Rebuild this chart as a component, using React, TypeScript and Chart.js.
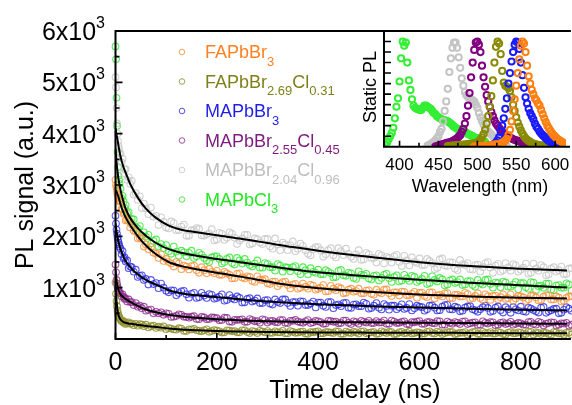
import React, { useEffect, useRef } from "react";
import { Chart, registerables } from "chart.js";
Chart.register(...registerables);

const FONT = '"Liberation Sans", Arial, Helvetica, sans-serif';

// ---------------- main panel: time-resolved PL ----------------
const TIME_NS = [
  0, 1, 2, 3, 4, 5, 6, 7, 8, 10, 12, 14, 16, 18, 20, 23, 26, 29, 32, 36, 40, 44, 48, 52, 56, 60, 65, 70, 75, 80, 85, 90, 95, 100,
  110, 120, 130, 140, 150, 160, 170, 180, 190, 200, 210, 220, 230, 240, 250, 260, 270, 280, 290, 300,
  310, 320, 330, 340, 350, 360, 370, 380, 390, 400, 410, 420, 430, 440, 450, 460, 470, 480, 490, 500,
  510, 520, 530, 540, 550, 560, 570, 580, 590, 600, 610, 620, 630, 640, 650, 660, 670, 680, 690, 700,
  710, 720, 730, 740, 750, 760, 770, 780, 790, 800, 810, 820, 830, 840, 850, 860, 870, 880, 890, 900,
];
// second interleaved sampling grid
const TIME_NS_B = [
  105, 115, 125, 135, 145, 155, 165, 175, 185, 195, 205, 215, 225, 235, 245, 255, 265, 275, 285, 295,
  305, 315, 325, 335, 345, 355, 365, 375, 385, 395, 405, 415, 425, 435, 445, 455, 465, 475, 485, 495,
  505, 515, 525, 535, 545, 555, 565, 575, 585, 595, 605, 615, 625, 635, 645, 655, 665, 675, 685, 695,
  705, 715, 725, 735, 745, 755, 765, 775, 785, 795, 805, 815, 825, 835, 845, 855, 865, 875, 885, 895,
];

const PL_FAPBBR3 = [
  3100, 3000, 2950, 2880, 2820, 2790, 2740, 2700, 2680,
  2680, 2530, 2530, 2440, 2460, 2310, 2320, 2300, 2170, 2230, 2110, 2090, 1960, 1970, 1950, 1800, 1840, 1750, 1790, 1680, 1660, 1580, 1650, 1520, 1560,
  1470, 1500, 1360, 1410, 1420, 1340, 1400, 1280, 1310, 1330,
  1250, 1280, 1180, 1270, 1200, 1220, 1130, 1220, 1145, 1085,
  1120, 1030, 1110, 1050, 1060, 980, 1080, 980, 1040, 980,
  1050, 930, 980, 1010, 890, 960, 920, 980, 890, 950,
  860, 910, 960, 890, 910, 845, 920, 850, 920, 900,
  840, 910, 790, 860, 890, 800, 860, 830, 900, 780,
  840, 800, 870, 760, 845, 815, 780, 870, 790, 830,
  740, 840, 810, 760, 850, 770, 830, 730, 800, 830,
];
const PL_FAPBBR3_B = [
  1500, 1410, 1470, 1430, 1355, 1430, 1290, 1340, 1365, 1280,
  1250, 1310, 1250, 1185, 1280, 1180, 1210, 1110, 1160, 1165,
  1070, 1120, 1075, 1120, 985, 1075, 1000, 1020, 1055, 960,
  1000, 925, 1035, 950, 985, 900, 980, 935, 890, 945,
  880, 960, 890, 965, 840, 910, 925, 850, 880, 805,
  900, 815, 910, 850, 830, 895, 795, 865, 830, 875,
  795, 890, 765, 835, 840, 775, 870, 795, 745, 840,
  810, 775, 850, 750, 825, 855, 770, 805, 745, 830,
];
const PL_FAPBBR269CL031 = [
  1100, 880, 740, 640, 560, 500, 460, 430, 410,
  375, 345, 360, 315, 335, 290, 310, 325, 295, 300, 270, 295, 260, 290, 280, 250, 280, 225, 250, 260, 215, 240, 220, 245, 190,
  205, 180, 205, 155, 185, 170, 150, 190, 155, 165,
  125, 170, 150, 130, 170, 135, 155, 115, 145, 155,
  120, 130, 160, 110, 140, 125, 145, 100, 130, 150,
  110, 135, 115, 145, 100, 125, 140, 105, 150, 120,
  135, 105, 130, 140, 95, 130, 110, 145, 115, 125,
  105, 150, 105, 130, 115, 140, 95, 125, 135, 110,
  140, 95, 115, 135, 105, 125, 90, 135, 110, 125,
  95, 140, 115, 95, 120, 90, 130, 110, 120, 90,
];
const PL_FAPBBR269CL031_B = [
  210, 185, 210, 160, 190, 200, 160, 170, 140, 175,
  150, 130, 165, 155, 130, 170, 115, 145, 160, 130,
  120, 150, 130, 110, 155, 120, 140, 105, 135, 140,
  110, 135, 125, 150, 100, 145, 115, 130, 145, 110,
  130, 100, 150, 115, 135, 100, 140, 120, 105, 130,
  105, 140, 115, 145, 95, 130, 135, 105, 120, 90,
  135, 100, 140, 115, 105, 135, 95, 125, 110, 130,
  100, 140, 90, 120, 120, 95, 135, 105, 85, 125,
];
const PL_MAPBBR3 = [
  2400, 2250, 2130, 2050, 1980, 1930, 1880, 1840, 1800,
  1760, 1650, 1710, 1570, 1590, 1510, 1530, 1380, 1410, 1400, 1310, 1350, 1210, 1230, 1240, 1150, 1170, 1060, 1150, 1070, 1090, 990, 1080, 1000, 940,
  950, 850, 930, 870, 880, 800, 900, 800, 860, 800,
  870, 760, 795, 830, 710, 780, 730, 790, 700, 760,
  670, 720, 770, 700, 720, 650, 730, 660, 730, 710,
  650, 720, 600, 670, 700, 610, 670, 640, 710, 590,
  650, 610, 680, 570, 650, 620, 585, 680, 600, 630,
  550, 650, 610, 560, 660, 580, 630, 540, 610, 640,
  560, 580, 650, 530, 610, 560, 620, 510, 580, 630,
  530, 590, 540, 610, 510, 560, 590, 510, 620, 550,
];
const PL_MAPBBR3_B = [
  910, 945, 895, 940, 805, 900, 815, 845, 875, 785,
  825, 745, 855, 770, 800, 715, 795, 750, 700, 755,
  690, 770, 700, 770, 645, 720, 735, 660, 690, 615,
  710, 625, 720, 660, 640, 705, 605, 675, 640, 685,
  605, 700, 575, 645, 650, 580, 675, 605, 555, 650,
  620, 580, 655, 555, 630, 665, 575, 610, 550, 635,
  580, 530, 620, 605, 545, 635, 515, 580, 620, 555,
  540, 610, 565, 515, 625, 540, 585, 500, 570, 590,
];
const PL_MAPBBR255CL045 = [
  1450, 1300, 1150, 1080, 1020, 980, 950, 920, 900,
  890, 830, 870, 820, 780, 790, 730, 770, 720, 720, 660, 700, 630, 650, 600, 630, 550, 565, 575, 500, 530, 500, 520, 470, 500,
  430, 450, 470, 430, 435, 390, 430, 385, 420, 405,
  370, 410, 335, 370, 385, 335, 370, 350, 385, 320,
  355, 325, 370, 310, 355, 340, 315, 370, 325, 345,
  295, 355, 335, 305, 360, 315, 345, 295, 335, 355,
  310, 320, 360, 295, 340, 315, 345, 285, 325, 350,
  295, 330, 305, 345, 280, 315, 330, 290, 345, 305,
  325, 280, 315, 330, 270, 315, 290, 335, 295, 305,
  280, 335, 280, 315, 295, 325, 265, 305, 315, 280,
];
const PL_MAPBBR255CL045_B = [
  490, 435, 480, 435, 415, 445, 385, 420, 390, 415,
  365, 415, 340, 375, 375, 335, 390, 345, 315, 370,
  350, 330, 370, 315, 355, 375, 325, 345, 310, 355,
  330, 300, 350, 340, 310, 360, 290, 330, 355, 320,
  310, 350, 325, 295, 360, 310, 335, 290, 330, 340,
  295, 330, 310, 350, 280, 340, 295, 315, 340, 290,
  320, 275, 345, 300, 325, 280, 325, 305, 280, 315,
  280, 330, 290, 335, 265, 310, 320, 280, 300, 260,
];
const PL_MAPBBR204CL096 = [
  5100, 4900, 4500, 4200, 4000, 3850, 3760, 3700, 3620,
  3610, 3440, 3510, 3230, 3300, 3310, 3100, 3150, 3020, 3080, 2810, 2840, 2710, 2780, 2550, 2640, 2540, 2430, 2560, 2380, 2400, 2220, 2370, 2280, 2170,
  2290, 2120, 2190, 2010, 2120, 2160, 2020, 2040, 2140, 1940,
  2050, 1970, 2050, 1850, 1960, 2030, 1860, 1940, 1850, 1950,
  1760, 1840, 1880, 1730, 1900, 1760, 1810, 1660, 1750, 1790,
  1600, 1730, 1630, 1770, 1630, 1660, 1560, 1730, 1550, 1650,
  1580, 1660, 1470, 1580, 1610, 1500, 1620, 1430, 1505, 1570,
  1440, 1520, 1360, 1550, 1430, 1500, 1370, 1540, 1440, 1360,
  1440, 1310, 1480, 1390, 1430, 1310, 1480, 1330, 1435, 1350,
  1470, 1290, 1370, 1440, 1240, 1370, 1310, 1410, 1270, 1380,
];
const PL_MAPBBR204CL096_B = [
  2155, 2260, 2120, 2230, 2010, 2120, 2150, 2010, 2060, 1920,
  2070, 1930, 2080, 1970, 1920, 2030, 1840, 1960, 1880, 1950,
  1800, 1960, 1730, 1840, 1830, 1710, 1860, 1730, 1630, 1790,
  1730, 1650, 1770, 1590, 1710, 1760, 1600, 1650, 1540, 1680,
  1580, 1490, 1630, 1600, 1490, 1640, 1420, 1530, 1590, 1480,
  1440, 1560, 1480, 1385, 1570, 1420, 1490, 1340, 1455, 1480,
  1350, 1450, 1400, 1500, 1290, 1465, 1340, 1395, 1460, 1310,
  1390, 1270, 1470, 1330, 1400, 1260, 1400, 1340, 1260, 1370,
];
const PL_MAPBCL3 = [
  5700, 5450, 4700, 4150, 3650, 3350, 3180, 3100, 3020,
  2930, 2740, 2790, 2680, 2550, 2610, 2450, 2470, 2290, 2340, 2330, 2180, 2150, 2200, 2020, 2080, 1990, 2030, 1860, 1910, 1940, 1800, 1850, 1770, 1830,
  1660, 1700, 1720, 1610, 1720, 1610, 1640, 1530, 1590, 1610,
  1470, 1560, 1480, 1580, 1470, 1490, 1410, 1530, 1390, 1460,
  1400, 1460, 1310, 1390, 1400, 1320, 1400, 1260, 1310, 1350,
  1260, 1310, 1200, 1330, 1240, 1290, 1190, 1320, 1240, 1180,
  1230, 1140, 1250, 1185, 1210, 1120, 1250, 1130, 1210, 1140,
  1230, 1090, 1150, 1190, 1040, 1140, 1090, 1160, 1060, 1130,
  1020, 1085, 1150, 1070, 1100, 1010, 1100, 1020, 1110, 1090,
  1010, 1110, 950, 1040, 1080, 960, 1040, 1000, 1085, 940,
];
const PL_MAPBCL3_B = [
  1710, 1800, 1620, 1690, 1680, 1580, 1680, 1580, 1500, 1610,
  1560, 1500, 1590, 1450, 1530, 1560, 1440, 1470, 1390, 1480,
  1400, 1330, 1430, 1400, 1320, 1420, 1260, 1340, 1380, 1290,
  1260, 1340, 1280, 1210, 1345, 1230, 1280, 1170, 1250, 1270,
  1160, 1240, 1190, 1270, 1110, 1240, 1140, 1180, 1230, 1110,
  1170, 1070, 1220, 1120, 1160, 1060, 1160, 1110, 1050, 1130,
  1050, 1150, 1060, 1160, 1000, 1090, 1120, 1020, 1060, 970,
  1090, 980, 1100, 1030, 1000, 1080, 950, 1050, 1000, 1060,
];

// fitted decay curves (black lines)
const FIT_T = [0, 2, 4, 6, 10, 15, 20, 30, 45, 60, 80, 105, 130, 160, 200, 250, 300, 350, 400, 500, 600, 700, 800, 900];
const FIT_FAPBBR3 = [2900, 2870, 2820, 2760, 2620, 2480, 2370, 2200, 1990, 1820, 1650, 1500, 1420, 1360, 1290, 1210, 1120, 1040, 990, 920, 865, 830, 805, 785];
const FIT_FAPBBR269CL031 = [1000, 750, 560, 460, 380, 335, 315, 295, 272, 255, 235, 205, 185, 170, 155, 145, 135, 130, 127, 124, 122, 118, 114, 110];
const FIT_MAPBBR3 = [2250, 2100, 1990, 1890, 1750, 1620, 1520, 1390, 1250, 1150, 1060, 950, 890, 850, 815, 770, 730, 700, 675, 640, 612, 590, 570, 553];
const FIT_MAPBBR255CL045 = [1350, 1150, 1020, 950, 870, 820, 780, 720, 640, 575, 520, 470, 440, 415, 385, 362, 347, 338, 332, 325, 318, 310, 302, 294];
const FIT_MAPBBR204CL096 = [4100, 3980, 3880, 3760, 3550, 3370, 3240, 3000, 2740, 2540, 2360, 2210, 2130, 2080, 2020, 1950, 1870, 1790, 1720, 1600, 1495, 1420, 1370, 1330];
const FIT_MAPBCL3 = [3700, 3450, 3260, 3110, 2900, 2700, 2540, 2340, 2150, 2010, 1870, 1750, 1680, 1620, 1560, 1490, 1420, 1355, 1300, 1220, 1155, 1095, 1045, 1000];

const LEGEND_LABELS = [
  "FAPbBr_{3}",
  "FAPbBr_{2.69}Cl_{0.31}",
  "MAPbBr_{3}",
  "MAPbBr_{2.55}Cl_{0.45}",
  "MAPbBr_{2.04}Cl_{0.96}",
  "MAPbCl_{3}",
];

const X_TICKS = [0, 200, 400, 600, 800];
const X_TICK_LABELS = ["0", "200", "400", "600", "800"];
const X_MINOR_TICKS = [100, 300, 500, 700];
const Y_TICKS = [1000, 2000, 3000, 4000, 5000, 6000];
const Y_TICK_LABELS = ["1x10^{3}", "2x10^{3}", "3x10^{3}", "4x10^{3}", "5x10^{3}", "6x10^{3}"];
const Y_MINOR_TICKS = [500, 1500, 2500, 3500, 4500, 5500];

// ---------------- inset: static PL spectra ----------------
const WL = [
  380, 382, 384, 386, 388, 390, 392, 394, 396, 398, 400, 402, 404, 406, 408, 410, 412, 414, 416, 418,
  420, 422, 424, 426, 428, 430, 432, 434, 436, 438, 440, 442, 444, 446, 448, 450, 452, 454, 456, 458,
  460, 462, 464, 466, 468, 470, 472, 474, 476, 478, 480, 482, 484, 486, 488, 490, 492, 494, 496, 498,
  500, 502, 504, 506, 508, 510, 512, 514, 516, 518, 520, 522, 524, 526, 528, 530, 532, 534, 536, 538,
  540, 542, 544, 546, 548, 550, 552, 554, 556, 558, 560, 562, 564, 566, 568, 570, 572, 574, 576, 578,
  580, 582, 584, 586, 588, 590, 592, 594, 596, 598, 600, 602, 604, 606, 608, 610, 612, 614, 616, 618, 620,
];

const SPEC_MAPBCL3_START = 382;
const SPEC_MAPBCL3 = [
  0.01, 0.04, 0.07, 0.1, 0.13, 0.18, 0.27, 0.38, 0.46, 0.62, 0.84, 1.0, 0.96, 0.99, 0.8, 0.63, 0.54, 0.45, 0.39, 0.37,
  0.36, 0.355, 0.35, 0.35, 0.37, 0.39, 0.39, 0.38, 0.37, 0.36, 0.34, 0.32, 0.31, 0.29, 0.28, 0.27, 0.26, 0.255, 0.25, 0.245,
  0.24, 0.23, 0.22, 0.205, 0.19, 0.18, 0.17, 0.165, 0.155, 0.15, 0.145, 0.14, 0.13, 0.12, 0.115, 0.105, 0.1, 0.09, 0.085, 0.08,
  0.07, 0.065, 0.06, 0.05, 0.045,
];
const SPEC_MAPBBR204CL096_START = 436;
const SPEC_MAPBBR204CL096 = [
  0.01, 0.015, 0.025, 0.035, 0.045, 0.06, 0.08, 0.1, 0.14, 0.17, 0.24, 0.34, 0.43, 0.55, 0.71, 0.84, 0.94, 0.99, 0.99, 0.94,
  0.85, 0.75, 0.65, 0.58, 0.52, 0.49, 0.47, 0.46, 0.45, 0.44, 0.43, 0.4, 0.37, 0.32, 0.28, 0.245, 0.21, 0.18, 0.16, 0.145,
  0.13, 0.115, 0.1, 0.08, 0.06, 0.045, 0.035, 0.03, 0.02, 0.015, 0.01, 0.005,
];
const SPEC_MAPBBR255CL045_START = 446;
const SPEC_MAPBBR255CL045 = [
  0.0, 0.005, 0.01, 0.015, 0.02, 0.025, 0.03, 0.035, 0.04, 0.04, 0.045, 0.05, 0.06, 0.07, 0.08, 0.095, 0.11, 0.14, 0.17, 0.22,
  0.29, 0.39, 0.51, 0.66, 0.8, 0.92, 0.99, 1.0, 0.97, 0.9, 0.77, 0.66, 0.57, 0.49, 0.43, 0.38, 0.33, 0.29, 0.25, 0.22,
  0.2, 0.18, 0.16, 0.14, 0.125, 0.11, 0.1, 0.09, 0.085, 0.08, 0.07, 0.065, 0.06, 0.055, 0.05, 0.045, 0.04, 0.035, 0.03, 0.028,
  0.025, 0.02, 0.018, 0.015, 0.012, 0.01, 0.008, 0.006, 0.005, 0.004,
];
const SPEC_FAPBBR269CL031_START = 462;
const SPEC_FAPBBR269CL031 = [
  0.005, 0.007, 0.008, 0.01, 0.01, 0.012, 0.013, 0.015, 0.016, 0.018, 0.02, 0.021, 0.022, 0.024, 0.025, 0.027, 0.029, 0.031, 0.035, 0.042,
  0.052, 0.068, 0.09, 0.12, 0.16, 0.22, 0.29, 0.38, 0.48, 0.63, 0.8, 0.95, 1.0, 0.98, 0.88, 0.72, 0.61, 0.58, 0.57, 0.555,
  0.53, 0.47, 0.4, 0.34, 0.28, 0.23, 0.19, 0.155, 0.125, 0.1, 0.08, 0.065, 0.055, 0.045, 0.035, 0.03, 0.025, 0.02, 0.017, 0.014,
  0.012, 0.01, 0.008, 0.007, 0.006, 0.005, 0.004, 0.003, 0.003, 0.002, 0.002, 0.001,
];
const SPEC_MAPBBR3_START = 508;
const SPEC_MAPBBR3 = [
  0.003, 0.004, 0.006, 0.008, 0.01, 0.013, 0.018, 0.025, 0.04, 0.06, 0.09, 0.14, 0.2, 0.27, 0.36, 0.46, 0.6, 0.7, 0.81, 0.9,
  0.97, 1.0, 0.99, 0.93, 0.8, 0.68, 0.56, 0.47, 0.41, 0.36, 0.32, 0.29, 0.26, 0.22, 0.19, 0.17, 0.145, 0.125, 0.11, 0.095,
  0.08, 0.065, 0.055, 0.045, 0.038, 0.032, 0.027, 0.022, 0.018, 0.014, 0.011, 0.009, 0.007, 0.006,
];
const SPEC_FAPBBR3_START = 496;
const SPEC_FAPBBR3 = [
  0.0, 0.002, 0.003, 0.004, 0.005, 0.006, 0.007, 0.008, 0.01, 0.011, 0.013, 0.015, 0.017, 0.019, 0.021, 0.024, 0.027, 0.03, 0.036, 0.045,
  0.058, 0.075, 0.11, 0.16, 0.24, 0.34, 0.45, 0.58, 0.7, 0.83, 0.96, 1.0, 0.98, 0.9, 0.77, 0.67, 0.6, 0.54, 0.5, 0.46,
  0.44, 0.41, 0.39, 0.35, 0.31, 0.27, 0.235, 0.2, 0.175, 0.15, 0.13, 0.11, 0.095, 0.08, 0.068, 0.057, 0.048, 0.04, 0.033, 0.027,
];

const INSET_X_TICKS = [400, 450, 500, 550, 600];
const INSET_X_TICK_LABELS = ["400", "450", "500", "550", "600"];
const INSET_X_MINOR_TICKS = [425, 475, 525, 575];
const INSET_Y_TICKS = [0.1, 0.2, 0.3, 0.4, 0.5, 0.6, 0.7, 0.8, 0.9, 1.0];

// ---------------- styles ----------------
const POINT_COLORS = [
  "rgba(246,148,62,0.85)",
  "rgba(145,145,45,0.85)",
  "rgba(45,45,225,0.8)",
  "rgba(140,40,140,0.8)",
  "rgba(200,200,200,0.85)",
  "rgba(60,228,60,0.85)",
];
const TEXT_COLORS = ["#FF8020", "#7F7F1A", "#1E1EE8", "#7F1A7F", "#BEBEBE", "#22E822"];
const INSET_COLORS = ["#FF7F10", "#8A8A00", "#1A1AFF", "#800080", "#C4C4C4", "#33EE33"];

function parseRich(s: string): { t: string; sub: boolean }[] {
  const out: { t: string; sub: boolean }[] = [];
  const re = /([_^])\{([^}]*)\}/g;
  let last = 0;
  let m: RegExpExecArray | null;
  while ((m = re.exec(s))) {
    if (m.index > last) out.push({ t: s.slice(last, m.index), sub: false });
    out.push({ t: m[2], sub: true });
    last = re.lastIndex;
  }
  if (last < s.length) out.push({ t: s.slice(last), sub: false });
  return out;
}

function drawRich(ctx: CanvasRenderingContext2D, s: string, x: number, y: number, size: number, subSize: number, dy: number, color: string, align: "left" | "right") {
  const parts = parseRich(s);
  const widths = parts.map((p) => {
    ctx.font = `${p.sub ? subSize : size}px ${FONT}`;
    return ctx.measureText(p.t).width;
  });
  const total = widths.reduce((a, b) => a + b, 0);
  let cx = align === "left" ? x : x - total;
  ctx.fillStyle = color;
  ctx.textAlign = "left";
  ctx.textBaseline = "alphabetic";
  parts.forEach((p, i) => {
    ctx.font = `${p.sub ? subSize : size}px ${FONT}`;
    ctx.fillText(p.t, cx, p.sub ? y + dy : y);
    cx += widths[i];
  });
}

function zip(xs: number[], ys: number[]) {
  return ys.map((y, i) => ({ x: xs[i], y }));
}
function spec(start: number, vals: number[]) {
  const i0 = WL.indexOf(start);
  return vals.map((v, i) => ({ x: WL[i0 + i], y: v }));
}

const mainDecor = {
  id: "mainDecor",
  afterDatasetsDraw(chart: any) {
    const { ctx, chartArea: ca, scales } = chart;
    const xs = scales.x;
    const ys = scales.y;
    ctx.save();
    ctx.strokeStyle = "#000";
    ctx.lineCap = "butt";
    ctx.lineWidth = 2;
    ctx.beginPath();
    ctx.moveTo(ca.right + 4, ca.top);
    ctx.lineTo(ca.left, ca.top);
    ctx.lineTo(ca.left, ca.bottom);
    ctx.lineTo(ca.right + 4, ca.bottom);
    ctx.stroke();
    ctx.lineWidth = 1.6;
    ctx.beginPath();
    X_TICKS.forEach((v) => { const p = xs.getPixelForValue(v); ctx.moveTo(p, ca.bottom); ctx.lineTo(p, ca.bottom - 6); });
    X_MINOR_TICKS.forEach((v) => { const p = xs.getPixelForValue(v); ctx.moveTo(p, ca.bottom); ctx.lineTo(p, ca.bottom - 4); });
    Y_TICKS.forEach((v) => { const p = ys.getPixelForValue(v); ctx.moveTo(ca.left, p); ctx.lineTo(ca.left + 7, p); });
    Y_MINOR_TICKS.forEach((v) => { const p = ys.getPixelForValue(v); ctx.moveTo(ca.left, p); ctx.lineTo(ca.left + 4, p); });
    ctx.stroke();
    ctx.fillStyle = "#000";
    ctx.font = `25px ${FONT}`;
    ctx.textAlign = "center";
    ctx.textBaseline = "alphabetic";
    X_TICKS.forEach((v, i) => ctx.fillText(X_TICK_LABELS[i], xs.getPixelForValue(v), 370));
    Y_TICKS.forEach((v, i) => drawRich(ctx, Y_TICK_LABELS[i], 105, ys.getPixelForValue(v) + 9, 25, 16, -12, "#000", "right"));
    ctx.fillStyle = "#000";
    ctx.font = `25px ${FONT}`;
    ctx.textAlign = "center";
    ctx.fillText("Time delay (ns)", 355, 398);
    ctx.save();
    ctx.translate(33, 185);
    ctx.rotate(-Math.PI / 2);
    ctx.fillText("PL signal (a.u.)", 0, 0);
    ctx.restore();
    const rows = [52, 81.5, 111, 140.5, 170, 199.5];
    LEGEND_LABELS.forEach((lab, i) => {
      ctx.beginPath();
      ctx.strokeStyle = POINT_COLORS[i];
      ctx.lineWidth = 1;
      ctx.arc(182, rows[i], 2.8, 0, Math.PI * 2);
      ctx.stroke();
      drawRich(ctx, lab, 205, rows[i] + 6.3, 18, 13, 7.5, TEXT_COLORS[i], "left");
    });
    ctx.restore();
  },
};

const insetDecor = {
  id: "insetDecor",
  afterDatasetsDraw(chart: any) {
    const { ctx, chartArea: ca, scales } = chart;
    const xs = scales.x;
    const ys = scales.y;
    ctx.save();
    ctx.strokeStyle = "#000";
    ctx.lineWidth = 2;
    ctx.beginPath();
    ctx.moveTo(ca.right + 4, ca.top);
    ctx.lineTo(ca.left, ca.top);
    ctx.lineTo(ca.left, ca.bottom);
    ctx.lineTo(ca.right + 4, ca.bottom);
    ctx.stroke();
    ctx.lineWidth = 1.6;
    ctx.beginPath();
    INSET_X_TICKS.forEach((v) => { const p = xs.getPixelForValue(v); ctx.moveTo(p, ca.bottom); ctx.lineTo(p, ca.bottom - 6); });
    INSET_X_MINOR_TICKS.forEach((v) => { const p = xs.getPixelForValue(v); ctx.moveTo(p, ca.bottom); ctx.lineTo(p, ca.bottom - 4); });
    INSET_Y_TICKS.forEach((v) => { const p = ys.getPixelForValue(v); ctx.moveTo(ca.left, p); ctx.lineTo(ca.left + 7, p); });
    ctx.stroke();
    ctx.fillStyle = "#000";
    ctx.font = `17px ${FONT}`;
    ctx.textAlign = "center";
    ctx.textBaseline = "alphabetic";
    INSET_X_TICKS.forEach((v, i) => ctx.fillText(INSET_X_TICK_LABELS[i], xs.getPixelForValue(v), 170));
    ctx.font = `18px ${FONT}`;
    ctx.fillText("Wavelength (nm)", 480 - 330, 192);
    ctx.save();
    ctx.translate(375.5 - 330, 87);
    ctx.rotate(-Math.PI / 2);
    ctx.fillText("Static PL", 0, 0);
    ctx.restore();
    ctx.restore();
  },
};

export default function App() {
  const mainRef = useRef<HTMLCanvasElement>(null);
  const insetRef = useRef<HTMLCanvasElement>(null);

  useEffect(() => {
    const series = [
      zip(TIME_NS, PL_FAPBBR3).concat(zip(TIME_NS_B, PL_FAPBBR3_B)),
      zip(TIME_NS, PL_FAPBBR269CL031).concat(zip(TIME_NS_B, PL_FAPBBR269CL031_B)),
      zip(TIME_NS, PL_MAPBBR3).concat(zip(TIME_NS_B, PL_MAPBBR3_B)),
      zip(TIME_NS, PL_MAPBBR255CL045).concat(zip(TIME_NS_B, PL_MAPBBR255CL045_B)),
      zip(TIME_NS, PL_MAPBBR204CL096).concat(zip(TIME_NS_B, PL_MAPBBR204CL096_B)),
      zip(TIME_NS, PL_MAPBCL3).concat(zip(TIME_NS_B, PL_MAPBCL3_B)),
    ];
    const fits = [FIT_FAPBBR3, FIT_FAPBBR269CL031, FIT_MAPBBR3, FIT_MAPBBR255CL045, FIT_MAPBBR204CL096, FIT_MAPBCL3];
    const datasets: any[] = [];
    fits.forEach((f) => {
      datasets.push({
        type: "scatter",
        data: zip(FIT_T, f),
        showLine: true,
        borderColor: "#000",
        borderWidth: 2,
        pointRadius: 0,
        cubicInterpolationMode: "monotone",
        order: 0,
      });
    });
    series.forEach((s, i) => {
      datasets.push({
        type: "scatter",
        data: s,
        showLine: false,
        pointStyle: "circle",
        pointRadius: 3.3,
        borderWidth: 1.1,
        borderColor: POINT_COLORS[i],
        backgroundColor: "rgba(0,0,0,0)",
        clip: false,
        order: 1 + i,
      });
    });

    const main = new Chart(mainRef.current as HTMLCanvasElement, {
      type: "scatter",
      data: { datasets },
      options: {
        responsive: false,
        animation: false,
        devicePixelRatio: 1,
        layout: { padding: { top: 31, left: 0, right: 0, bottom: 0 } },
        plugins: { legend: { display: false }, tooltip: { enabled: false } },
        events: [],
        scales: {
          x: {
            type: "linear", min: 0, max: 891,
            grid: { display: false }, border: { display: false },
            ticks: { display: false },
            afterFit: (s: any) => { s.height = 66; },
          },
          y: {
            type: "linear", min: 0, max: 6000,
            grid: { display: false }, border: { display: false },
            ticks: { display: false },
            afterFit: (s: any) => { s.width = 115.5; },
          },
        },
      } as any,
      plugins: [mainDecor],
    });

    const specs = [
      spec(SPEC_FAPBBR3_START, SPEC_FAPBBR3),
      spec(SPEC_FAPBBR269CL031_START, SPEC_FAPBBR269CL031),
      spec(SPEC_MAPBBR3_START, SPEC_MAPBBR3),
      spec(SPEC_MAPBBR255CL045_START, SPEC_MAPBBR255CL045),
      spec(SPEC_MAPBBR204CL096_START, SPEC_MAPBBR204CL096),
      spec(SPEC_MAPBCL3_START, SPEC_MAPBCL3),
    ];
    const drawOrder = [1, 3, 2, 4, 5, 6];
    const inset = new Chart(insetRef.current as HTMLCanvasElement, {
      type: "scatter",
      data: {
        datasets: specs.map((d, i) => ({
          data: d,
          pointStyle: "circle",
          pointRadius: 3.1,
          borderWidth: 2,
          borderColor: INSET_COLORS[i],
          backgroundColor: "rgba(0,0,0,0)",
          order: drawOrder[i],
        })),
      },
      options: {
        responsive: false,
        animation: false,
        devicePixelRatio: 1,
        layout: { padding: { top: 31, left: 0, right: 0, bottom: 0 } },
        plugins: { legend: { display: false }, tooltip: { enabled: false } },
        events: [],
        scales: {
          x: {
            type: "linear", min: 380, max: 614,
            grid: { display: false }, border: { display: false },
            ticks: { display: false },
            afterFit: (s: any) => { s.height = 53.3; },
          },
          y: {
            type: "linear", min: 0, max: 1.1,
            grid: { display: false }, border: { display: false },
            ticks: { display: false },
            afterFit: (s: any) => { s.width = 54; },
          },
        },
      } as any,
      plugins: [insetDecor],
    });

    return () => {
      main.destroy();
      inset.destroy();
    };
  }, []);

  return (
    <div style={{ position: "fixed", left: 0, top: 0, width: 572, height: 405, background: "#fff", overflow: "hidden" }}>
      <canvas ref={mainRef} width={572} height={405} style={{ position: "absolute", left: 0, top: 0, width: 572, height: 405 }} />
      <canvas ref={insetRef} width={242} height={200} style={{ position: "absolute", left: 330, top: 0, width: 242, height: 200 }} />
    </div>
  );
}
